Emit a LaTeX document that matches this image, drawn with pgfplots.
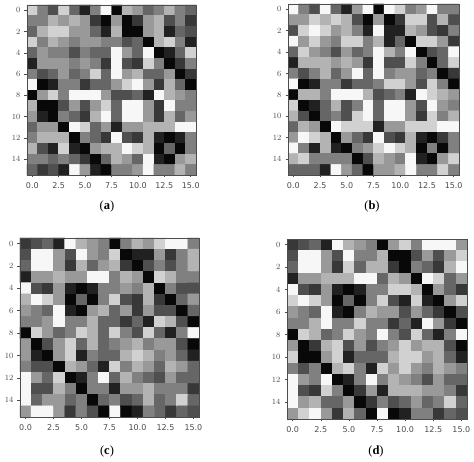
\documentclass[border=0pt]{standalone}
\usepackage{pgfplots}
\usepackage{pgfplotstable}
\usepackage{fontspec}
\setmainfont{DejaVu Sans}
\newfontfamily\capfont{Liberation Serif}
\pgfplotsset{compat=1.18}
\pgfplotstableread[row sep=crcr,header=false]{
8\\5\\3\\8\\4\\1\\5\\9\\0\\7\\6\\4\\5\\7\\5\\4\\
5\\5\\7\\6\\7\\6\\2\\0\\6\\0\\2\\6\\7\\3\\5\\2\\
4\\7\\8\\8\\6\\6\\4\\1\\7\\0\\0\\6\\7\\1\\4\\3\\
8\\5\\7\\6\\5\\6\\6\\5\\5\\3\\4\\0\\7\\8\\5\\1\\
4\\6\\5\\5\\3\\5\\4\\4\\9\\6\\4\\9\\0\\1\\4\\8\\
1\\6\\6\\6\\5\\6\\5\\2\\9\\3\\2\\8\\5\\0\\2\\5\\
5\\3\\4\\6\\4\\5\\8\\4\\9\\6\\7\\4\\4\\6\\0\\2\\
9\\0\\1\\5\\5\\2\\4\\4\\6\\8\\9\\6\\2\\7\\4\\0\\
0\\6\\8\\5\\9\\9\\9\\6\\3\\3\\4\\1\\9\\7\\6\\5\\
7\\0\\0\\3\\6\\3\\6\\8\\4\\9\\9\\6\\2\\9\\5\\5\\
6\\1\\0\\5\\4\\2\\7\\9\\4\\9\\9\\6\\2\\7\\4\\6\\
4\\6\\6\\0\\9\\8\\4\\6\\1\\6\\6\\7\\7\\7\\9\\9\\
5\\7\\7\\7\\0\\5\\4\\2\\9\\3\\2\\7\\1\\0\\1\\5\\
7\\3\\1\\8\\1\\0\\6\\7\\7\\9\\8\\7\\0\\4\\0\\5\\
5\\5\\4\\5\\4\\2\\0\\4\\7\\6\\4\\9\\1\\0\\6\\7\\
4\\2\\3\\1\\9\\6\\1\\0\\5\\5\\6\\9\\5\\5\\7\\5\\
}\ta
\pgfplotstableread[row sep=crcr,header=false]{
9\\5\\3\\9\\4\\1\\6\\9\\0\\9\\8\\5\\6\\9\\5\\5\\
6\\6\\8\\7\\8\\7\\3\\0\\6\\0\\2\\8\\8\\3\\7\\3\\
3\\8\\9\\8\\6\\7\\5\\1\\9\\1\\1\\7\\6\\3\\2\\5\\
9\\6\\8\\6\\5\\8\\8\\5\\7\\1\\4\\0\\8\\8\\6\\2\\
4\\8\\6\\5\\3\\6\\4\\5\\9\\7\\5\\9\\0\\3\\4\\9\\
1\\7\\7\\7\\6\\7\\6\\2\\9\\3\\3\\8\\5\\0\\4\\8\\
5\\3\\5\\7\\4\\6\\9\\4\\9\\5\\6\\6\\4\\5\\0\\2\\
9\\0\\1\\5\\5\\2\\4\\4\\5\\8\\8\\6\\3\\8\\5\\0\\
0\\7\\7\\5\\9\\9\\9\\7\\3\\4\\5\\1\\9\\8\\7\\6\\
8\\0\\1\\4\\7\\3\\5\\9\\4\\9\\9\\6\\3\\9\\6\\5\\
7\\3\\0\\4\\5\\3\\8\\9\\4\\9\\9\\6\\2\\8\\5\\7\\
4\\7\\6\\0\\9\\8\\8\\8\\1\\6\\6\\8\\8\\8\\9\\9\\
6\\9\\8\\7\\0\\6\\4\\2\\9\\3\\2\\7\\1\\0\\2\\5\\
9\\5\\1\\7\\1\\0\\5\\6\\8\\9\\8\\7\\0\\5\\0\\5\\
7\\8\\5\\5\\5\\5\\0\\3\\7\\6\\5\\9\\1\\0\\6\\8\\
4\\4\\4\\1\\9\\6\\4\\0\\6\\6\\7\\9\\5\\5\\8\\5\\
}\tb
\pgfplotstableread[row sep=crcr,header=false]{
2\\3\\4\\1\\9\\7\\6\\5\\0\\5\\7\\6\\8\\9\\9\\5\\
3\\9\\9\\6\\3\\9\\6\\5\\8\\0\\1\\1\\6\\2\\5\\7\\
4\\9\\9\\6\\2\\7\\4\\6\\7\\2\\0\\3\\5\\3\\5\\7\\
1\\6\\6\\7\\6\\6\\9\\9\\5\\7\\6\\0\\8\\7\\5\\5\\
9\\3\\2\\6\\1\\0\\1\\5\\5\\6\\5\\7\\0\\5\\3\\3\\
7\\9\\8\\6\\0\\4\\0\\5\\8\\3\\2\\7\\2\\0\\4\\6\\
6\\5\\4\\9\\1\\0\\6\\7\\4\\6\\2\\6\\3\\3\\0\\4\\
5\\5\\6\\9\\5\\5\\7\\4\\4\\2\\4\\1\\8\\7\\3\\0\\
0\\8\\6\\4\\5\\8\\7\\4\\8\\5\\3\\8\\4\\1\\5\\9\\
6\\0\\3\\6\\8\\4\\7\\4\\5\\6\\7\\5\\6\\6\\3\\0\\
6\\1\\0\\6\\8\\1\\5\\4\\4\\7\\8\\7\\5\\6\\4\\1\\
5\\3\\3\\0\\7\\6\\4\\1\\8\\5\\7\\6\\4\\7\\6\\4\\
9\\6\\4\\8\\0\\1\\5\\9\\4\\7\\5\\4\\3\\6\\4\\4\\
9\\3\\3\\7\\5\\0\\5\\5\\1\\6\\6\\7\\5\\5\\5\\2\\
9\\4\\6\\6\\4\\5\\0\\4\\5\\3\\4\\7\\4\\5\\8\\4\\
6\\9\\9\\6\\2\\5\\3\\0\\9\\0\\1\\5\\4\\2\\4\\3\\
}\tc
\pgfplotstableread[row sep=crcr,header=false]{
2\\3\\4\\1\\9\\7\\6\\5\\0\\6\\8\\5\\9\\9\\9\\6\\
3\\9\\9\\6\\3\\9\\5\\5\\7\\0\\0\\3\\6\\3\\6\\8\\
4\\9\\9\\6\\2\\8\\4\\7\\7\\2\\0\\5\\4\\2\\7\\9\\
1\\6\\6\\7\\7\\7\\9\\9\\4\\7\\6\\0\\9\\8\\4\\6\\
9\\3\\2\\6\\1\\0\\1\\5\\5\\8\\8\\7\\0\\6\\4\\2\\
8\\9\\8\\6\\0\\4\\0\\5\\8\\3\\1\\8\\1\\0\\6\\8\\
6\\5\\4\\9\\1\\0\\5\\7\\6\\6\\3\\6\\4\\2\\0\\3\\
5\\5\\7\\9\\5\\5\\8\\5\\5\\2\\4\\1\\9\\6\\2\\0\\
0\\8\\7\\4\\5\\8\\6\\5\\9\\5\\3\\8\\4\\1\\5\\9\\
6\\0\\2\\7\\8\\3\\6\\3\\5\\6\\8\\6\\7\\7\\3\\0\\
8\\0\\0\\6\\8\\1\\4\\4\\4\\7\\8\\8\\6\\7\\4\\1\\
5\\3\\5\\0\\7\\8\\5\\1\\8\\6\\8\\6\\5\\7\\6\\5\\
9\\6\\5\\9\\0\\1\\5\\9\\5\\7\\6\\5\\3\\6\\4\\4\\
9\\3\\2\\8\\5\\0\\2\\6\\1\\7\\7\\7\\6\\6\\5\\2\\
9\\6\\7\\4\\4\\6\\0\\2\\5\\3\\4\\6\\4\\5\\8\\4\\
6\\8\\9\\6\\2\\7\\4\\0\\9\\0\\1\\5\\5\\2\\4\\3\\
}\td
\definecolor{ink}{gray}{0.3}
\pgfplotsset{panel/.style={
  scale only axis, y dir=reverse,
  xmin=-0.5,xmax=15.5,ymin=-0.5,ymax=15.5,
  xtick={0,2.5,5,7.5,10,12.5,15},
  xticklabels={0.0,2.5,5.0,7.5,10.0,12.5,15.0},
  ytick={0,2,...,14},
  tick align=outside, tick pos=left,
  tick style={ink,line width=0.5pt},
  major tick length=2.5pt,
  axis line style={ink,line width=0.5pt},
  tick label style={font=\fontsize{8}{9}\selectfont,text=ink},
  xticklabel style={yshift=-1.5pt},
  yticklabel style={xshift=-0.5pt},
  colormap={ref}{gray(0cm)=(0.03); gray(1cm)=(0.13); gray(2cm)=(0.22); gray(3cm)=(0.31); gray(4cm)=(0.40); gray(5cm)=(0.50); gray(6cm)=(0.60); gray(7cm)=(0.70); gray(8cm)=(0.82); gray(9cm)=(0.97)},
  point meta min=0,point meta max=9,
  anchor=north west,
  axis on top,
}}
\newcommand\hm[1]{\addplot[matrix plot*,mesh/cols=16,point meta=explicit]
  table[x index=0,y index=0,x expr={mod(\coordindex,16)},y expr={floor((\coordindex+0.5)/16)},meta expr=\thisrowno{0}] {#1};}
\begin{document}
\begin{tikzpicture}[x=1pt,y=1pt]
\path[use as bounding box,fill=white] (0,0) rectangle (474,462);
\begin{axis}[panel,at={(27pt,457pt)},width=169pt,height=170pt]\hm{\ta}\end{axis}
\begin{axis}[panel,at={(288pt,458pt)},width=171pt,height=171pt]\hm{\tb}\end{axis}
\begin{axis}[panel,at={(20pt,224pt)},width=179pt,height=179pt]\hm{\tc}\end{axis}
\begin{axis}[panel,at={(287pt,223pt)},width=180pt,height=180pt]\hm{\td}\end{axis}
\node[font=\capfont\fontsize{12.5}{14}\selectfont] at (107,255) {(\textbf{a})};
\node[font=\capfont\fontsize{12.5}{14}\selectfont] at (372,255) {(\textbf{b})};
\node[font=\capfont\fontsize{12.5}{14}\selectfont] at (107,11) {(\textbf{c})};
\node[font=\capfont\fontsize{12.5}{14}\selectfont] at (376,11) {(\textbf{d})};
\end{tikzpicture}
\end{document}
